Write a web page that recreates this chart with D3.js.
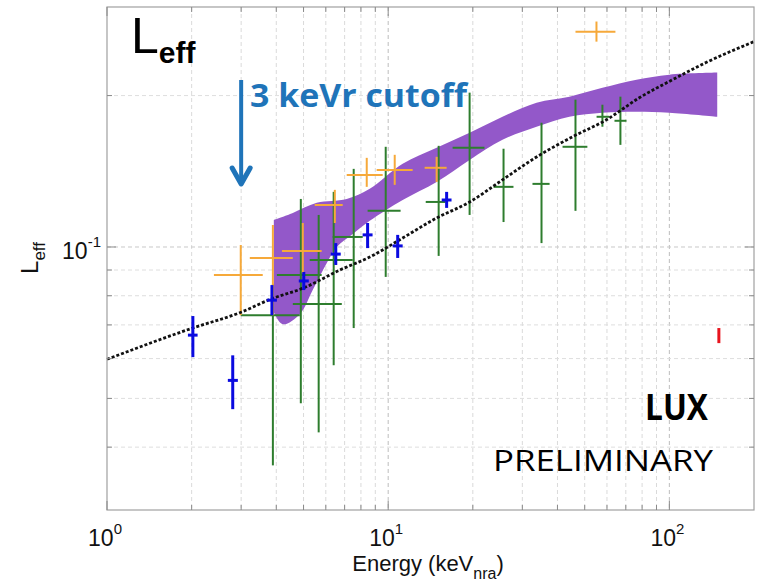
<!DOCTYPE html>
<html>
<head>
<meta charset="utf-8">
<script src="https://cdn.jsdelivr.net/npm/d3@7"></script>
<style>
  body { margin: 0; background: #fff; }
  svg { display: block; }
</style>
</head>
<body>
<svg width="757" height="583"></svg>
<script>
// axis ticks
var xMajor = [1, 10, 100];
var xMinor = [2, 3, 4, 5, 6, 7, 8, 9, 20, 30, 40, 50, 60, 70, 80, 90];
var yMajor = [0.1];
var yMinor = [0.04, 0.05, 0.06, 0.07, 0.08, 0.09, 0.2];
var xLabels = ["0", "1", "2"];

// purple band (upper and lower edge)
var bandTopE = [3.92, 4.58, 5.57, 7.12, 8.6, 11.26, 14.87, 19.48, 25.5, 33.7, 44.1, 57.8, 76.4, 100, 148];
var bandTopL = [0.1132, 0.1169, 0.1224, 0.1246, 0.1305, 0.1463, 0.1575, 0.1687, 0.1815, 0.1936, 0.199, 0.2073, 0.2151, 0.2201, 0.2222];
var bandBotE = [3.92, 4.22, 4.85, 5.39, 6.05, 6.56, 7.48, 8.6, 11.26, 14.87, 19.48, 25.5, 33.7, 44.1, 57.8, 76.4, 100, 148];
var bandBotL = [0.0742, 0.0702, 0.0735, 0.0821, 0.0929, 0.1, 0.1061, 0.1127, 0.124, 0.1347, 0.149, 0.1634, 0.1734, 0.1815, 0.1849, 0.1857, 0.1849, 0.1815];

// dashed model curve
var modelE = [1, 2, 3, 3.83, 5.0, 6.73, 8.6, 11.26, 14.87, 19.5, 25.5, 33.7, 45.2, 59.7, 78.2, 102.5, 135, 200];
var modelL = [0.0598, 0.0689, 0.0742, 0.0788, 0.0829, 0.090, 0.0955, 0.1042, 0.1142, 0.1229, 0.136, 0.151, 0.1656, 0.179, 0.198, 0.215, 0.2326, 0.256];

// orange points
var orangeE   = [2.99, 3.89, 4.97, 6.46, 8.39, 10.55, 14.87, 55.05];
var orangeL   = [0.0880, 0.0951, 0.0982, 0.1212, 0.1391, 0.1423, 0.1437, 0.268];
var orangeLlo = [0.0732, 0.0732, 0.0888, 0.1116, 0.1317, 0.1329, 0.1347, 0.256];
var orangeLhi = [0.1009, 0.1106, 0.1116, 0.1299, 0.1504, 0.1525, 0.1511, 0.2807];
var orangeElo = [2.40, 3.22, 4.19, 5.48, 7.12, 9.1, 13.48, 46.36];
var orangeEhi = [3.58, 4.58, 5.8, 6.89, 9.56, 12.22, 16.14, 64.3];

// green points
var greenE   = [3.89, 4.89, 5.66, 6.40, 7.54, 9.80, 15.12, 19.48, 25.72, 35.1, 46.36, 57.8, 66.98];
var greenL   = [0.0732, 0.088, 0.077, 0.0942, 0.1047, 0.118, 0.1229, 0.1575, 0.1317, 0.1335, 0.1582, 0.1815, 0.1782];
var greenLlo = [0.0368, 0.0489, 0.0428, 0.0582, 0.069, 0.0872, 0.096, 0.1158, 0.1121, 0.1018, 0.118, 0.1734, 0.1596];
var greenLhi = [0.0845, 0.1246, 0.1158, 0.1287, 0.143, 0.1582, 0.1589, 0.2027, 0.1568, 0.1766, 0.1963, 0.1918, 0.199];
var greenElo = [2.99, 4.02, 4.58, 5.26, 6.35, 8.45, 13.6, 16.95, 23.7, 32.6, 41.7, 55.1, 63.8];
var greenEhi = [4.85, 5.8, 6.84, 7.48, 8.12, 11.07, 16.0, 22.0, 27.9, 37.5, 51.1, 61.2, 70.4];

// blue points
var blueE   = [2.02, 2.80, 3.86, 5.01, 6.51, 8.45, 10.81, 16.14];
var blueL   = [0.0668, 0.0543, 0.0784, 0.0856, 0.0968, 0.1057, 0.1005, 0.1240];
var blueLlo = [0.0604, 0.0476, 0.0732, 0.0821, 0.0921, 0.0995, 0.0951, 0.1196];
var blueLhi = [0.0729, 0.0609, 0.084, 0.0892, 0.1018, 0.1116, 0.1057, 0.1287];
var blueElo = [1.94, 2.69, 3.70, 4.81, 6.25, 8.11, 10.37, 15.5];
var blueEhi = [2.10, 2.92, 4.02, 5.22, 6.78, 8.80, 11.26, 16.8];

// red point
var redE = [150];
var redLlo = [0.0644];
var redLhi = [0.069];

var svg = d3.select('svg');
var x = d3.scaleLog().domain([1, 200]).range([107, 754]);
var y = d3.scaleLog().domain([0.03, 0.3]).range([510, 7]);

// grid
var grid = svg.append('g');
grid.selectAll('.gx').data(xMinor.concat([10, 100])).enter().append('line')
  .attr('x1', function(d){ return x(d); }).attr('x2', function(d){ return x(d); })
  .attr('y1', 7).attr('y2', 510)
  .attr('stroke', function(d){ return d === 10 || d === 100 ? '#bdbdbd' : '#dadada'; })
  .attr('stroke-width', 1).attr('stroke-dasharray', '4,3');
grid.selectAll('.gy').data(yMinor.concat(yMajor)).enter().append('line')
  .attr('y1', function(d){ return y(d); }).attr('y2', function(d){ return y(d); })
  .attr('x1', 107).attr('x2', 754)
  .attr('stroke', function(d){ return d === 0.1 ? '#c8c8c8' : '#dedede'; })
  .attr('stroke-width', 1).attr('stroke-dasharray', '4,3');

// band
var edge = d3.line()
  .x(function(d){ return x(d[0]); })
  .y(function(d){ return y(d[1]); })
  .curve(d3.curveCatmullRom.alpha(0.5));
var bandTop = d3.zip(bandTopE, bandTopL);
var bandBot = d3.zip(bandBotE, bandBotL).reverse();
svg.append('path')
  .attr('d', edge(bandTop) + 'L' + edge(bandBot).slice(1) + 'Z')
  .attr('fill', '#9358c9');

function errorBars(E, L, Lo, Hi, Elo, Ehi, color, w){
  var g = svg.append('g').attr('stroke', color).attr('stroke-width', w);
  g.selectAll('.v').data(E).enter().append('line')
    .attr('x1', function(d){ return x(d); }).attr('x2', function(d){ return x(d); })
    .attr('y1', function(d, i){ return y(Lo[i]); })
    .attr('y2', function(d, i){ return y(Hi[i]); });
  if (!Elo) return;
  g.selectAll('.h').data(E).enter().append('line')
    .attr('x1', function(d, i){ return x(Elo[i]); })
    .attr('x2', function(d, i){ return x(Ehi[i]); })
    .attr('y1', function(d, i){ return y(L[i]); })
    .attr('y2', function(d, i){ return y(L[i]); });
}

errorBars(greenE, greenL, greenLlo, greenLhi, greenElo, greenEhi, '#2e7d2e', 2);
errorBars(orangeE, orangeL, orangeLlo, orangeLhi, orangeElo, orangeEhi, '#f6a93a', 2);

// model curve
svg.append('path')
  .attr('d', d3.line()
    .x(function(d){ return x(d[0]); })
    .y(function(d){ return y(d[1]); })
    .curve(d3.curveMonotoneX)(d3.zip(modelE, modelL)))
  .attr('fill', 'none').attr('stroke', '#111')
  .attr('stroke-width', 2.8).attr('stroke-dasharray', '3,2');

errorBars(blueE, blueL, blueLlo, blueLhi, blueElo, blueEhi, '#0a0ae0', 3);
errorBars(redE, null, redLlo, redLhi, null, null, '#e8141e', 3);

// frame and ticks
svg.append('rect').attr('x', 107).attr('y', 7).attr('width', 647).attr('height', 503)
  .attr('fill', 'none').attr('stroke', '#a0a0a0').attr('stroke-width', 1.2);
var ticks = svg.append('g').attr('stroke', '#8a8a8a').attr('stroke-width', 1);
xMinor.concat(xMajor).forEach(function(d){
  var len = xMajor.indexOf(d) >= 0 ? 9 : 5;
  ticks.append('line').attr('x1', x(d)).attr('x2', x(d)).attr('y1', 510).attr('y2', 510 - len);
  ticks.append('line').attr('x1', x(d)).attr('x2', x(d)).attr('y1', 7).attr('y2', 7 + len);
});
yMinor.concat(yMajor).forEach(function(d){
  var len = yMajor.indexOf(d) >= 0 ? 9 : 5;
  ticks.append('line').attr('y1', y(d)).attr('y2', y(d)).attr('x1', 107).attr('x2', 107 + len);
  ticks.append('line').attr('y1', y(d)).attr('y2', y(d)).attr('x1', 754).attr('x2', 754 - len);
});

// tick labels
var font = 'Liberation Sans, Arial, sans-serif';
xMajor.forEach(function(d, i){
  var t = svg.append('text').attr('x', x(d) - 2).attr('y', 546)
    .attr('text-anchor', 'middle').attr('font-family', font).attr('font-size', 23).attr('fill', '#111');
  t.append('tspan').text('10');
  t.append('tspan').attr('dy', -12).attr('font-size', 15).text(xLabels[i]);
});
var yl = svg.append('text').attr('x', 101).attr('y', 259)
  .attr('text-anchor', 'end').attr('font-family', font).attr('font-size', 23).attr('fill', '#111');
yl.append('tspan').text('10');
yl.append('tspan').attr('dy', -12).attr('font-size', 15).text('-1');

// axis labels
var xt = svg.append('text').attr('x', 428).attr('y', 571)
  .attr('text-anchor', 'middle').attr('font-family', font).attr('font-size', 22).attr('fill', '#111');
xt.append('tspan').text('Energy (keV');
xt.append('tspan').attr('dy', 8).attr('font-size', 16).text('nra');
xt.append('tspan').attr('dy', -8).text(')');

var yt = svg.append('text').attr('transform', 'translate(38,258) rotate(-90)')
  .attr('text-anchor', 'middle').attr('font-family', font).attr('font-size', 24).attr('fill', '#111');
yt.append('tspan').text('L');
yt.append('tspan').attr('dy', 7).attr('font-size', 17).text('eff');

// annotations
var title = svg.append('text').attr('x', 131).attr('y', 53)
  .attr('font-family', font).attr('font-size', 50).attr('fill', '#000');
title.append('tspan').text('L');
title.append('tspan').attr('dy', 10).attr('font-size', 30).attr('font-weight', 'bold').text('eff');

var blueText = '#1f74b9';
svg.append('line').attr('x1', x(3)).attr('x2', x(3)).attr('y1', 80).attr('y2', 184)
  .attr('stroke', blueText).attr('stroke-width', 4);
svg.append('path')
  .attr('d', 'M' + (x(3) - 9) + ',168L' + x(3) + ',184L' + (x(3) + 9) + ',168')
  .attr('fill', 'none').attr('stroke', blueText).attr('stroke-width', 5)
  .attr('stroke-linecap', 'round').attr('stroke-linejoin', 'round');
svg.append('text').attr('x', 250).attr('y', 107)
  .attr('font-family', 'Open Sans, sans-serif').attr('font-weight', 'bold').attr('font-size', 33)
  .attr('fill', blueText).attr('textLength', 217).attr('lengthAdjust', 'spacingAndGlyphs')
  .text('3 keVr cutoff');

svg.append('text').attr('x', 645).attr('y', 420)
  .attr('font-family', 'Open Sans, sans-serif').attr('font-weight', 'bold').attr('font-size', 35)
  .attr('fill', '#000').attr('textLength', 63).attr('lengthAdjust', 'spacingAndGlyphs')
  .text('LUX');
svg.append('text').attr('x', 493).attr('y', 471)
  .attr('font-family', 'Open Sans, sans-serif').attr('font-size', 30)
  .attr('fill', '#000').attr('textLength', 220).attr('lengthAdjust', 'spacingAndGlyphs')
  .text('PRELIMINARY');
</script>
</body>
</html>
